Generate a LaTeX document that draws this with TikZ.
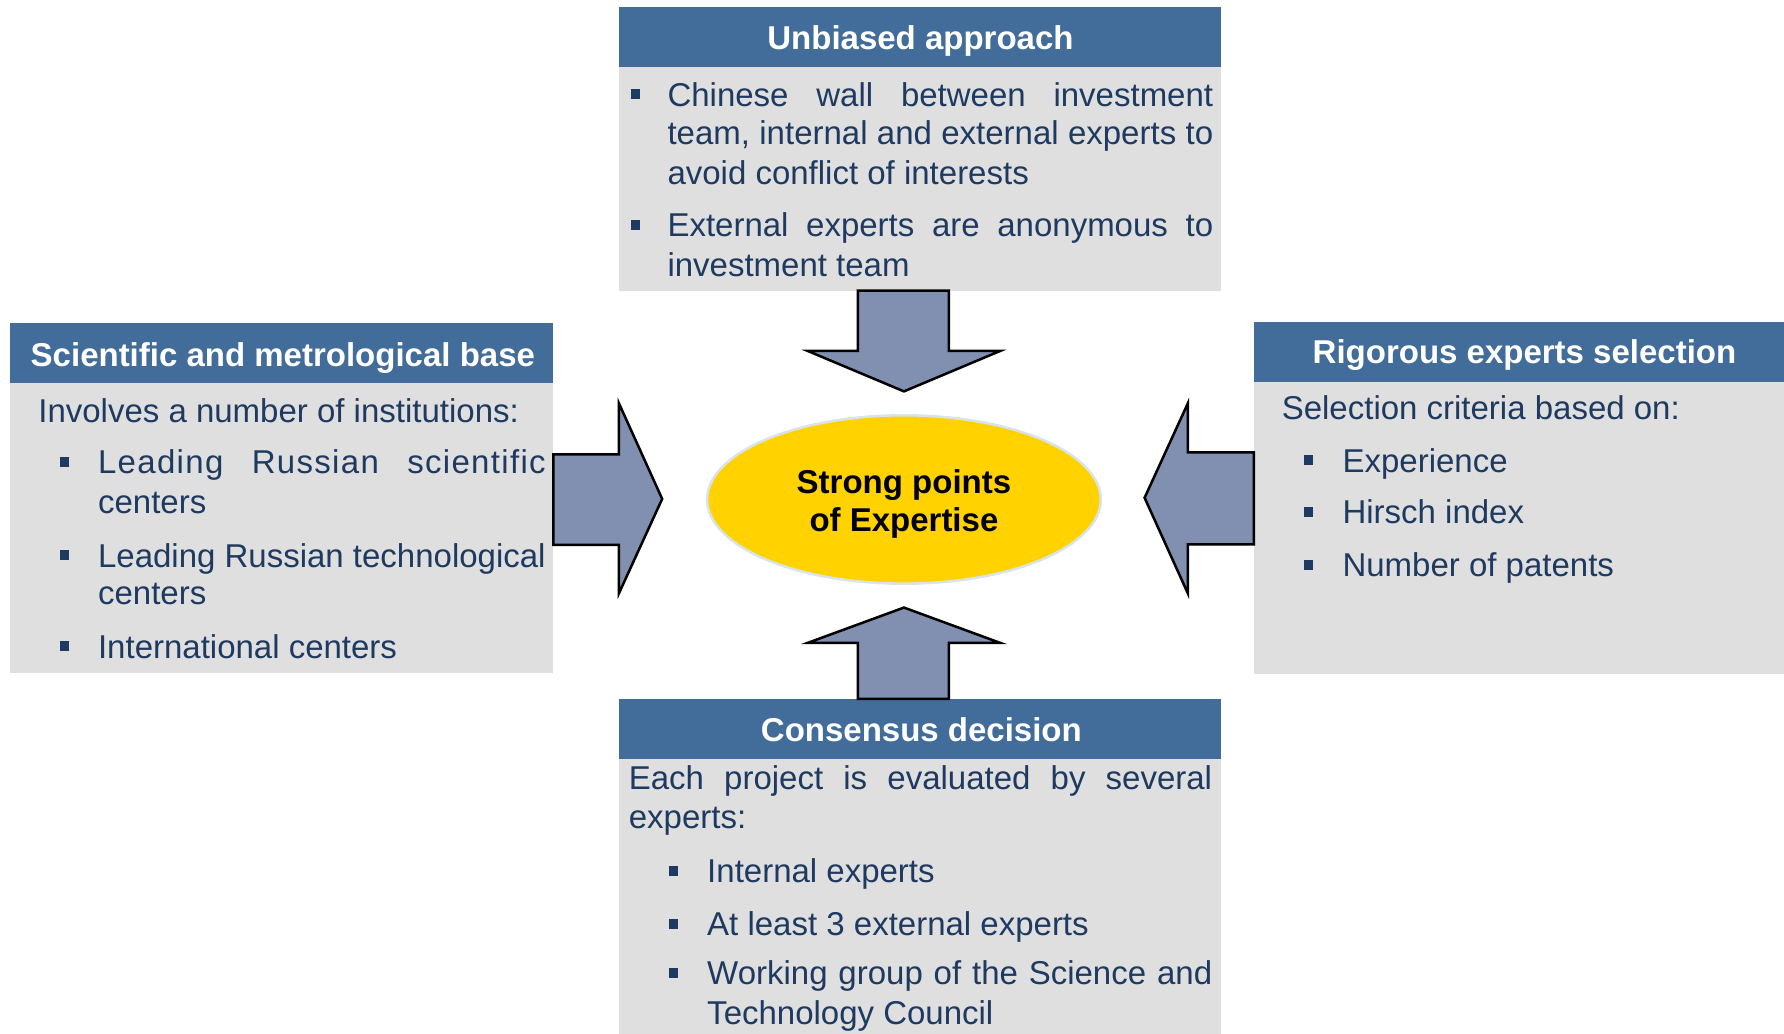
\documentclass[tikz,border=0pt]{standalone}
\usepackage{fontspec}
\setmainfont{Liberation Sans}
\usetikzlibrary{shapes.geometric}
\definecolor{hdrblue}{HTML}{426D9A}
\definecolor{bodygray}{HTML}{DFDFDF}
\definecolor{txtnavy}{HTML}{1F3A60}
\definecolor{arrowfill}{HTML}{8190B0}
\definecolor{coregold}{HTML}{FFD200}
\definecolor{coreedge}{HTML}{D9E4EA}
\newcommand{\jline}[2]{\hbox to #1pt{#2}}
\newcommand{\bul}[2]{\fill[txtnavy] (#1,#2-15) rectangle ++(8,8.8);}
\hbadness=10000
\begin{document}
\begin{tikzpicture}[x=1pt,y=-1pt,
  hdr/.style={fill=hdrblue},
  bodybox/.style={fill=bodygray},
  htext/.style={text=white,font=\bfseries\fontsize{29}{35}\selectfont,inner sep=0pt,anchor=base},
  btext/.style={text=txtnavy,font=\fontsize{29}{35}\selectfont,inner sep=0pt,anchor=base west},
  bigarrow/.style={fill=arrowfill,draw=black,line width=2.2pt,line join=miter},
  ctext/.style={text=black,font=\bfseries\fontsize{29}{35}\selectfont,inner sep=0pt,anchor=base}]
\useasboundingbox (0,0) rectangle (1568,908.8);

% ---- top box
\fill[bodybox] (544.2,58.6) rectangle (1073,255.5);
\fill[hdr] (544.2,5.9) rectangle (1073,58.6);
\node[htext] (th) at (809,43.9) {Unbiased approach};
\bul{554.2}{93.2}
\node[btext] (t1) at (586.5,93.2) {\jline{479.6}{Chinese wall between investment}};
\node[btext] (t2) at (586.5,127.4) {\jline{479.6}{team, internal and external experts to}};
\node[btext] (t3) at (586.5,162.6) {avoid conflict of interests};
\bul{554.2}{208}
\node[btext] (t4) at (586.5,208) {\jline{479.6}{External experts are anonymous to}};
\node[btext] (t5) at (586.5,243.2) {investment team};

% ---- left box
\fill[bodybox] (8.8,336.3) rectangle (486.3,591.6);
\fill[hdr] (8.8,284) rectangle (486.3,336.3);
\node[htext] (lh) at (248.6,322.3) {Scientific and metrological base};
\node[btext] (l0) at (33.5,371.5) {Involves a number of institutions:};
\bul{52.5}{416.6}
\node[btext] (l1) at (86,416.6) {\addfontfeature{LetterSpace=4}\jline{393.5}{Leading Russian scientific}};
\node[btext] (l2) at (86,451) {centers};
\bul{52.5}{498.6}
\node[btext] (l3) at (86,498.6) {Leading Russian technological};
\node[btext] (l4) at (86,531.7) {centers};
\bul{52.5}{578.6}
\node[btext] (l5) at (86,578.6) {International centers};

% ---- right box
\fill[bodybox] (1102,335.4) rectangle (1568,592.7);
\fill[hdr] (1102,282.7) rectangle (1568,335.4);
\node[htext] (rh) at (1339.9,319.3) {Rigorous experts selection};
\node[btext] (r0) at (1126.4,369.1) {Selection criteria based on:};
\bul{1146.2}{415.1}
\node[btext] (r1) at (1179.8,415.1) {Experience};
\bul{1146.2}{460.5}
\node[btext] (r2) at (1179.8,460.5) {Hirsch index};
\bul{1146.2}{506.8}
\node[btext] (r3) at (1179.8,506.8) {Number of patents};

% ---- bottom box
\fill[bodybox] (544.2,667.1) rectangle (1073,908.8);
\fill[hdr] (544.2,614.3) rectangle (1073,667.1);
\node[htext] (bh) at (809.8,651.8) {Consensus decision};
\node[btext] (b0) at (552.5,694.3) {\jline{512.7}{Each project is evaluated by several}};
\node[btext] (b1) at (552.5,728) {experts:};
\bul{588.3}{775.8}
\node[btext] (b2) at (621.4,775.8) {Internal experts};
\bul{588.3}{822.3}
\node[btext] (b3) at (621.4,822.3) {At least 3 external experts};
\bul{588.3}{865.7}
\node[btext] (b4) at (621.4,865.7) {\jline{443.8}{Working group of the Science and}};
\node[btext] (b5) at (621.4,900.3) {Technology Council};

% ---- arrows
\draw[bigarrow] (754,255.5) -- (834,255.5) -- (834,308.5) -- (879,308.5) -- (794.5,344) -- (710,308.5) -- (754,308.5) -- cycle;
\draw[bigarrow] (754,614.3) -- (834,614.3) -- (834,565) -- (879,565) -- (794.5,534) -- (710,565) -- (754,565) -- cycle;
\draw[bigarrow] (486.3,399.3) -- (544,399.3) -- (544,354.5) -- (582,438.5) -- (544,521.5) -- (544,479) -- (486.3,479) -- cycle;
\draw[bigarrow] (1102,397.5) -- (1044,397.5) -- (1044,354.5) -- (1006,437.5) -- (1044,521.5) -- (1044,478.5) -- (1102,478.5) -- cycle;

% ---- centre
\node[ellipse,fill=coregold,draw=coreedge,line width=2.2pt,minimum width=346pt,minimum height=148pt,inner sep=0pt] (core) at (794.5,439) {};
\node[ctext] (c1) at (794.5,433.6) {Strong points};
\node[ctext] (c2) at (794.5,467.3) {of Expertise};
\end{tikzpicture}
\end{document}
